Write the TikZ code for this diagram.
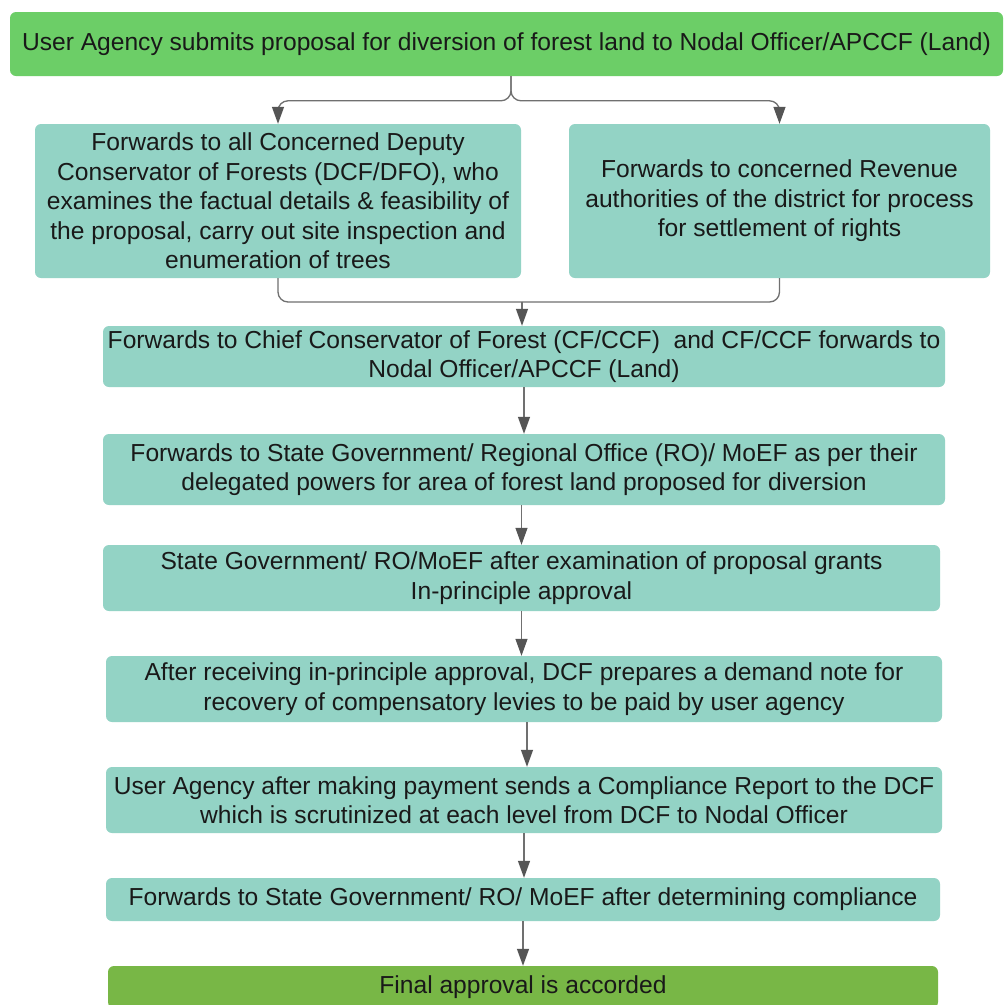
\documentclass[tikz,border=0pt]{standalone}
\usepackage{fontspec}
\setmainfont{Liberation Sans}
\usetikzlibrary{arrows.meta,calc}
\definecolor{topgreen}{RGB}{108,206,103}
\definecolor{finalgreen}{RGB}{120,183,70}
\definecolor{tealbox}{RGB}{147,211,197}
\definecolor{linegray}{RGB}{112,112,112}
\definecolor{tipgray}{RGB}{85,85,85}
\definecolor{txt}{RGB}{25,25,25}
\tikzset{
  box/.style={fill=tealbox, draw=none, rounded corners=6pt, inner sep=0pt,
    align=center, text=txt, font=\fontsize{24.6}{29.5}\selectfont},
  conn/.style={draw=linegray, line width=1.3pt, rounded corners=10pt},
  arr/.style={conn, -{Triangle[length=17pt,width=12pt,fill=tipgray,color=tipgray]}}
}
\begin{document}
\begin{tikzpicture}[x=1pt,y=-1pt]
\useasboundingbox (0,0) rectangle (1005,1005);
\fill[white] (0,0) rectangle (1005,1005);
\node[box, fill=topgreen, minimum width=993pt, minimum height=64pt] (top) at (506.5,44)
  {User Agency submits proposal for diversion of forest land to Nodal Officer/APCCF (Land)};
\node[box, minimum width=486pt, minimum height=154pt] (dcf) at (278,201)
  {Forwards to all Concerned Deputy\\Conservator of Forests (DCF/DFO), who\\examines the factual details \& feasibility of\\the proposal, carry out site inspection and\\enumeration of trees};
\node[box, minimum width=421pt, minimum height=154pt] (rev) at (779.5,201)
  {Forwards to concerned Revenue\\authorities of the district for process\\for settlement of rights};
\node[box, minimum width=842pt, minimum height=61pt] (cf) at (524,356.5)
  {Forwards to Chief Conservator of Forest (CF/CCF)\ \ and CF/CCF forwards to\\Nodal Officer/APCCF (Land)};
\node[box, minimum width=842pt, minimum height=71pt] (sg) at (524,469.5)
  {Forwards to State Government/ Regional Office (RO)/ MoEF as per their\\delegated powers for area of forest land proposed for diversion};
\node[box, minimum width=837pt, minimum height=66pt] (ip) at (521.5,578)
  {State Government/ RO/MoEF after examination of proposal grants\\In-principle approval};
\node[box, minimum width=836pt, minimum height=66pt] (dn) at (524,689)
  {After receiving in-principle approval, DCF prepares a demand note for\\recovery of compensatory levies to be paid by user agency};
\node[box, minimum width=836pt, minimum height=66pt] (cr) at (524,800)
  {User Agency after making payment sends a Compliance Report to the DCF\\which is scrutinized at each level from DCF to Nodal Officer};
\node[box, minimum width=834pt, minimum height=43pt] (fw) at (523,899.5)
  {Forwards to State Government/ RO/ MoEF after determining compliance};
\node[box, fill=finalgreen, minimum width=830pt, minimum height=42pt] (fin) at (523,987)
  {Final approval is accorded};
% top split
\draw[arr] ([xshift=4.5pt]top.south) |- ([yshift=23pt]dcf.north) -- (dcf.north);
\draw[arr] ([xshift=4.5pt]top.south) |- ([yshift=23pt]rev.north) -- (rev.north);
% merge
\coordinate (m) at (522,302);
\draw[conn] (dcf.south) |- (m);
\draw[conn] (rev.south) |- (m);
\draw[arr, rounded corners=0pt] (m) -- (m |- cf.north);
% chain
\draw[arr] (cf.south) -- (cf.south |- sg.north);
\draw[arr] (ip.north |- sg.south) -- (ip.north);
\draw[arr] (ip.south) -- (ip.south |- dn.north);
\draw[arr] ([xshift=3pt]dn.south) -- ([xshift=3pt]dn.south |- cr.north);
\draw[arr] (cr.south) -- (cr.south |- fw.north);
\draw[arr] (fw.south) -- (fw.south |- fin.north);
\end{tikzpicture}
\end{document}
